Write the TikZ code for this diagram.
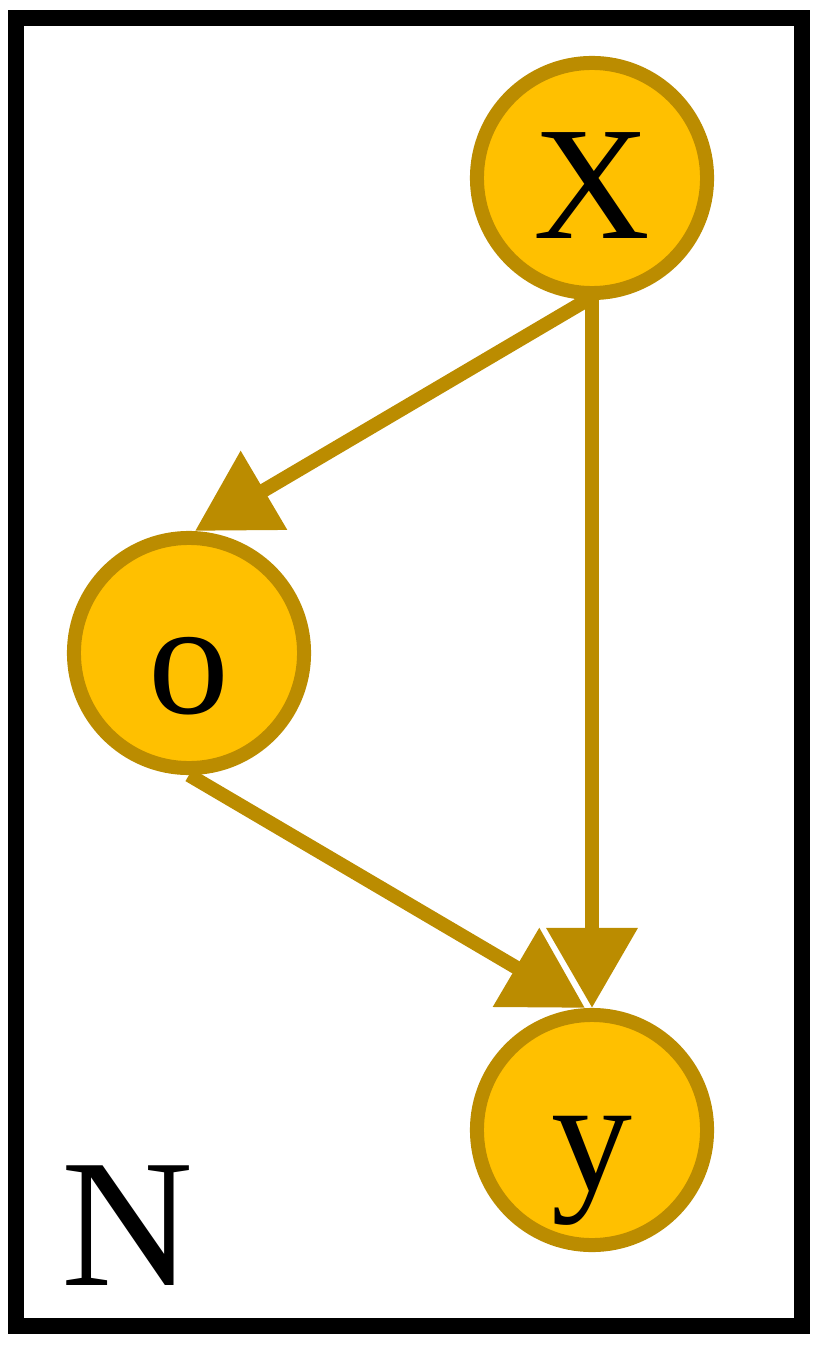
\documentclass[tikz,border=0pt]{standalone}
\usepackage{fontspec}
\setmainfont{Liberation Serif}
\usetikzlibrary{arrows.meta}
\definecolor{nodefill}{RGB}{255,192,0}
\definecolor{nodeline}{RGB}{187,140,0}

\begin{document}
\begin{tikzpicture}[x=0.01cm,y=-0.01cm,
    var/.style={circle,draw=nodeline,fill=nodefill,line width=0.14cm,
      minimum size=2.3cm,inner sep=0pt,text height=1.2cm,text depth=0cm,
      font=\fontsize{46}{46}\selectfont},
    edge/.style={draw=nodeline,line width=0.14cm,
      -{Triangle[length=0.8cm,width=0.88cm]}}]
  \useasboundingbox (0,0) rectangle (829,1349);
  \draw[line width=0.16cm] (16,18) rectangle (802,1326);
  \node[var] (X) at (592,178) {X};
  \node[var] (o) at (189,653) {o};
  \node[var] (y) at (592,1130) {y};
  \node[anchor=base,font=\fontsize{52}{52}\selectfont] (N) at (128,1285) {N};
  \draw[edge] ([xshift=-0.05cm]X.south) -- ([xshift=0.06cm]o.north);
  \draw[edge] (X.south) -- (y.north);
  \draw[edge] (o.south) -- ([xshift=-0.07cm]y.north);
\end{tikzpicture}
\end{document}
